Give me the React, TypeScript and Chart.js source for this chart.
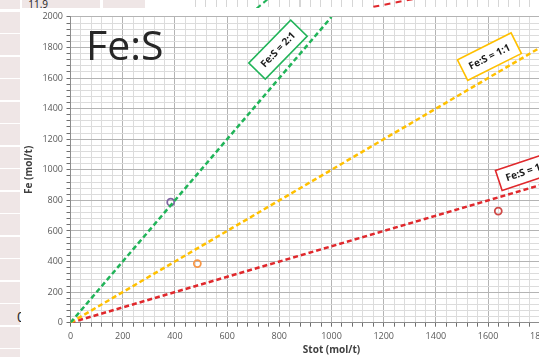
import React, { useEffect, useRef } from 'react';
import { Chart, registerables } from 'chart.js';

Chart.register(...registerables);

// ---- data ----
const greenLineX = [0, 1000];
const greenLineY = [0, 2000];
const yellowLineX = [0, 2000];
const yellowLineY = [0, 2000];
const redLineX = [0, 2000];
const redLineY = [0, 1000];

const sampleStot = [384, 486, 1639];
const sampleFe = [788, 387, 730];

const ratioLabels = ['Fe:S = 2:1', 'Fe:S = 1:1', 'Fe:S = 1:2'];
const ratioLabelX = [795, 1605, 1750];
const ratioLabelY = [1786, 1740, 992];

const chartTitle = 'Fe:S';
const xTitle = 'Stot (mol/t)';
const yTitle = 'Fe (mol/t)';
const cellText = ['11.9', '0'];

// ---- styles ----
const FONT = '"Open Sans", "Liberation Sans", sans-serif';
const GREEN = '#21b459';
const YELLOW = '#ffc000';
const RED = '#e0282c';
const sampleColors = ['#8064a2', '#f79646', '#cf4a47'];
const labelColors = [GREEN, YELLOW, RED];
const labelAngles = [45.7, 26.6, 18.5];
const labelSizes = [
  [60, 23],
  [60, 23],
  [60, 21],
];

const CW = 600;
const CH = 349;

const toXY = (xs: number[], ys: number[]) => xs.map((x, i) => ({ x, y: ys[i] }));

const overlayPlugin = {
  id: 'overlay',
  afterDatasetsDraw(chart: any) {
    const { ctx, scales } = chart;
    const xs = scales.x;
    const ys = scales.y;
    ctx.save();
    // big title text
    ctx.fillStyle = '#262626';
    ctx.font = `41px ${FONT}`;
    ctx.textAlign = 'left';
    ctx.textBaseline = 'alphabetic';
    ctx.fillText(chartTitle, 65, 51.5);
    // ratio label boxes
    ratioLabels.forEach((t, i) => {
      const cx = xs.getPixelForValue(ratioLabelX[i]);
      const cy = ys.getPixelForValue(ratioLabelY[i]);
      const [w, h] = labelSizes[i];
      ctx.save();
      ctx.translate(cx, cy);
      ctx.rotate((-labelAngles[i] * Math.PI) / 180);
      ctx.fillStyle = '#ffffff';
      ctx.fillRect(-w / 2, -h / 2, w, h);
      ctx.strokeStyle = labelColors[i];
      ctx.lineWidth = 1.6;
      ctx.strokeRect(-w / 2, -h / 2, w, h);
      ctx.fillStyle = '#1a1a1a';
      ctx.font = `bold 10px ${FONT}`;
      ctx.textAlign = 'center';
      ctx.textBaseline = 'middle';
      ctx.fillText(t, 0, 0.5);
      ctx.restore();
    });
    ctx.restore();
  },
};

export default function App() {
  const ref = useRef<HTMLCanvasElement>(null);

  useEffect(() => {
    if (!ref.current) return;
    const gridColor = (c: any) =>
      c.tick && Math.round(c.tick.value) % 200 === 0 ? '#b4b4b4' : '#dcdcdc';
    const lineDs = (data: any[], color: string) => ({
      type: 'line' as const,
      data,
      borderColor: color,
      borderWidth: 2.5,
      borderDash: [5, 3],
      pointRadius: 0,
      fill: false,
      tension: 0,
    });
    const chart = new Chart(ref.current, {
      type: 'scatter',
      data: {
        datasets: [
          lineDs(toXY(greenLineX, greenLineY), GREEN),
          lineDs(toXY(yellowLineX, yellowLineY), YELLOW),
          lineDs(toXY(redLineX, redLineY), RED),
          {
            type: 'scatter',
            data: toXY(sampleStot, sampleFe),
            pointRadius: 3.5,
            pointBorderWidth: 1.8,
            pointBackgroundColor: 'rgba(255,255,255,0)',
            pointBorderColor: sampleColors,
          } as any,
        ],
      },
      options: {
        animation: false,
        responsive: false,
        maintainAspectRatio: false,
        layout: { padding: { top: 6, right: 28.5, bottom: 0, left: 0 } },
        plugins: {
          legend: { display: false },
          tooltip: { enabled: false },
        },
        scales: {
          x: {
            type: 'linear',
            min: 0,
            max: 2000,
            ticks: {
              stepSize: 40,
              autoSkip: false,
              maxRotation: 0,
              padding: 4.5,
              color: '#595959',
              font: { family: FONT, size: 9 },
              callback: (v: any) => (Math.round(v) % 200 === 0 ? String(Math.round(v)) : ''),
            },
            grid: { color: gridColor, tickColor: '#6f6f6f', tickLength: 4, lineWidth: 1 },
            border: { color: '#8c8c8c', width: 1 },
            title: {
              display: true,
              text: xTitle,
              color: '#404040',
              font: { family: FONT, size: 10, weight: 'bold' },
              padding: { top: 0, bottom: 1 },
            },
            afterFit: (s: any) => {
              s.height = 34.3;
            },
          },
          y: {
            type: 'linear',
            min: 0,
            max: 2000,
            ticks: {
              stepSize: 40,
              autoSkip: false,
              padding: 3.5,
              color: '#595959',
              font: { family: FONT, size: 9 },
              callback: (v: any) => (Math.round(v) % 200 === 0 ? String(Math.round(v)) : ''),
            },
            grid: { color: gridColor, tickColor: '#6f6f6f', tickLength: 4, lineWidth: 1 },
            border: { color: '#8c8c8c', width: 1 },
            title: {
              display: true,
              text: yTitle,
              color: '#404040',
              font: { family: FONT, size: 10, weight: 'bold' },
              padding: { top: 2, bottom: 0 },
            },
            afterFit: (s: any) => {
              s.width = 49.5;
            },
          },
        },
      } as any,
      plugins: [overlayPlugin],
    });
    return () => chart.destroy();
  }, []);

  const pink = '#efe6e6';
  const rows: React.ReactNode[] = [];
  const rowStart = 10;
  const rowStep = 22.53;
  rows.push(
    <div key="r0" style={{ position: 'absolute', left: 0, top: 0, width: 20, height: 9, background: pink }} />
  );
  for (let k = 0; k < 16; k++) {
    const top = rowStart + k * rowStep + 1.5;
    rows.push(
      <div
        key={'r' + (k + 1)}
        style={{ position: 'absolute', left: 0, top, width: 20, height: rowStep - 1.5, background: pink }}
      />
    );
  }

  return (
    <div
      style={{
        position: 'fixed',
        left: 0,
        top: 0,
        width: 539,
        height: 357,
        overflow: 'hidden',
        background: '#ffffff',
      }}
    >
      {rows}
      <div style={{ position: 'absolute', left: 22, top: 0, width: 78, height: 9, background: pink }} />
      <div style={{ position: 'absolute', left: 103, top: 0, width: 42, height: 9, background: pink }} />
      <div
        style={{
          position: 'absolute',
          left: 195,
          top: 0,
          width: 344,
          height: 7,
          backgroundImage:
            'repeating-linear-gradient(90deg, #d6d6d6 0px, #d6d6d6 1px, transparent 1px, transparent 10.45px)',
        }}
      />
      <div
        style={{
          position: 'absolute',
          left: 255,
          top: 3,
          width: 14,
          height: 0,
          borderTop: `2.5px dashed ${GREEN}`,
          transform: 'rotate(-40deg)',
        }}
      />
      <div
        style={{
          position: 'absolute',
          left: 373,
          top: 2,
          width: 40,
          height: 0,
          borderTop: `2.5px dashed ${RED}`,
          transform: 'rotate(-11deg)',
        }}
      />
      <div
        style={{
          position: 'absolute',
          left: 17,
          top: -2.4,
          width: 31,
          textAlign: 'right',
          fontFamily: FONT,
          fontSize: 10,
          lineHeight: '12px',
          color: '#222',
        }}
      >
        {cellText[0]}
      </div>
      <div
        style={{
          position: 'absolute',
          left: 0,
          top: 308,
          width: 25,
          textAlign: 'right',
          fontFamily: FONT,
          fontSize: 14,
          lineHeight: '18px',
          color: '#222',
        }}
      >
        {cellText[1]}
      </div>
      <div
        style={{
          position: 'absolute',
          left: 21,
          top: 8,
          width: CW,
          height: CH,
          background: '#ffffff',
        }}
      >
        <canvas ref={ref} width={CW} height={CH} style={{ display: 'block', width: CW, height: CH }} />
      </div>
    </div>
  );
}
